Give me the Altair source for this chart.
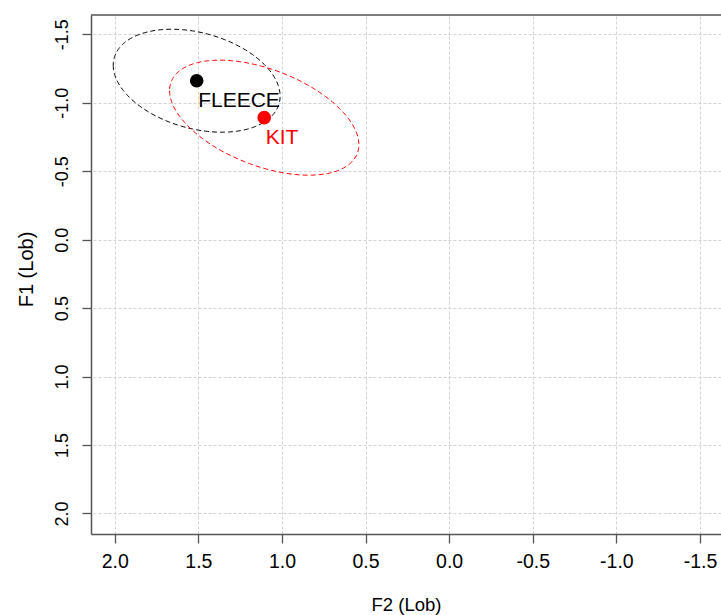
import numpy as np
import pandas as pd
import altair as alt

# Vowel means (Lobanov-normalised) and the shape of each vowel's spread ellipse
vowels = ["FLEECE", "KIT"]
vowel_colors = ["black", "red"]
f2_mean = [1.510, 1.106]
f1_mean = [-1.161, -0.891]
f2_radius = [0.499, 0.566]
f1_radius = [0.376, 0.420]
f1_f2_corr = [-0.30, -0.47]

axis_ticks = [-1.5, -1.0, -0.5, 0.0, 0.5, 1.0, 1.5, 2.0]
f2_domain = [-1.626, 2.142]
f1_domain = [-1.641, 2.150]

FONT = "Liberation Sans"
AXIS_GREY = "#555555"

means = pd.DataFrame({"vowel": vowels, "F2": f2_mean, "F1": f1_mean})

# Outline of each ellipse, traced from its centre, radii and F1~F2 correlation
t = np.linspace(0, 2 * np.pi, 241)
rows = []
for v, cx, cy, a, b, r in zip(vowels, f2_mean, f1_mean, f2_radius, f1_radius, f1_f2_corr):
    f2 = cx + a * np.cos(t)
    f1 = cy + b * (r * np.cos(t) + np.sqrt(1 - r * r) * np.sin(t))
    for i, (x, y) in enumerate(zip(f2, f1)):
        rows.append({"vowel": v, "order": i, "F2": float(x), "F1": float(y)})
ellipses = pd.DataFrame(rows)

label_expr = ("datum.value < 0 ? '-' + format(-datum.value, '.1f') "
              ": format(datum.value, '.1f')")

x_enc = alt.X(
    "F2:Q",
    title="F2 (Lob)",
    scale=alt.Scale(domain=f2_domain, reverse=True, nice=False, zero=False),
    axis=alt.Axis(
        values=axis_ticks,
        labelExpr=label_expr,
        labelFontSize=19.5,
        labelPadding=9,
        titleFontSize=18.5,
        titleBaseline="alphabetic",
        titleY=76,
    ),
)
y_enc = alt.Y(
    "F1:Q",
    title="F1 (Lob)",
    scale=alt.Scale(domain=f1_domain, reverse=True, nice=False, zero=False),
    axis=alt.Axis(
        values=axis_ticks,
        labelExpr=label_expr,
        labelFontSize=18,
        labelAngle=270,
        labelAlign="center",
        labelBaseline="alphabetic",
        labelPadding=15,
        titleFontSize=20,
        titleAngle=270,
        titleAlign="center",
        titleBaseline="alphabetic",
        titleX=-59,
        titleY=254,
    ),
)
color_enc = alt.Color(
    "vowel:N", scale=alt.Scale(domain=vowels, range=vowel_colors), legend=None
)

ellipse_layer = (
    alt.Chart(ellipses)
    .mark_line(strokeWidth=1, strokeDash=[5, 3], clip=True)
    .encode(x=x_enc, y=y_enc, color=color_enc, detail="vowel:N", order="order:Q")
)

point_layer = (
    alt.Chart(means)
    .mark_point(filled=True, shape="circle", size=185, opacity=1)
    .encode(x=x_enc, y=y_enc, color=color_enc)
)

label_layer = (
    alt.Chart(means)
    .mark_text(align="left", baseline="alphabetic", dx=1.5, dy=26.5,
               fontSize=21, font=FONT)
    .encode(x=x_enc, y=y_enc, text="vowel:N", color=color_enc)
)

# Top edge of the plot box
top_border = (
    alt.Chart(pd.DataFrame({"edge": ["top"]}))
    .mark_rule(color=AXIS_GREY, strokeWidth=1.5)
    .encode(y=alt.value(0), x=alt.value(0), x2=alt.value(630))
)

chart = (
    alt.layer(ellipse_layer, point_layer, label_layer, top_border)
    .properties(
        width=630,
        height=519,
        autosize=alt.AutoSizeParams(type="none"),
        padding={"left": 91, "top": 15, "right": 0, "bottom": 81},
        background="white",
    )
    .configure_view(stroke=None)
    .configure_axis(
        domainColor=AXIS_GREY,
        domainWidth=1.5,
        tickColor=AXIS_GREY,
        tickSize=9,
        tickWidth=1.3,
        grid=True,
        gridColor="#d3d3d3",
        gridDash=[3, 2],
        gridWidth=1,
        labelColor="black",
        titleColor="black",
        labelFont=FONT,
        titleFont=FONT,
        titleFontWeight="normal",
    )
)

chart.save("out.html", embed_options={"renderer": "svg", "actions": False})
